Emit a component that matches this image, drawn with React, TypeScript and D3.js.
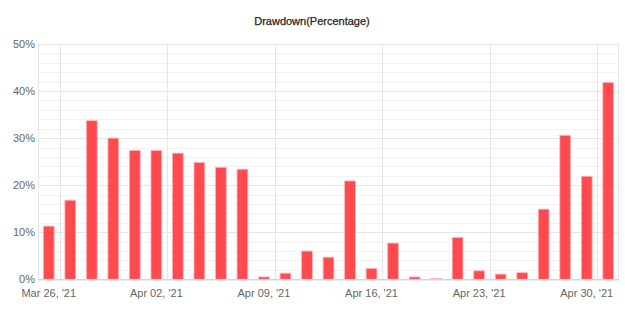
import React from "react";
import * as d3 from "d3";

const dates = [
  "2021-03-26",
  "2021-03-29", "2021-03-30", "2021-03-31", "2021-04-01", "2021-04-02",
  "2021-04-05", "2021-04-06", "2021-04-07", "2021-04-08", "2021-04-09",
  "2021-04-12", "2021-04-13", "2021-04-14", "2021-04-15", "2021-04-16",
  "2021-04-19", "2021-04-20", "2021-04-21", "2021-04-22", "2021-04-23",
  "2021-04-26", "2021-04-27", "2021-04-28", "2021-04-29", "2021-04-30",
  "2021-05-03",
];
const drawdown = [
  11.3,
  16.8, 33.7, 30.0, 27.4, 27.4,
  26.8, 24.8, 23.8, 23.4, 0.5,
  1.3, 6.0, 4.7, 20.9, 2.3,
  7.7, 0.5, 0.15, 8.9, 1.8,
  1.1, 1.4, 14.9, 30.6, 21.9,
  41.8,
];
const tickDates = ["2021-03-26", "2021-04-02", "2021-04-09", "2021-04-16", "2021-04-23", "2021-04-30"];
const tickLabels = ["Mar 26, '21", "Apr 02, '21", "Apr 09, '21", "Apr 16, '21", "Apr 23, '21", "Apr 30, '21"];
const yTicks = [0, 10, 20, 30, 40, 50];
const yMinor = [2, 4, 6, 8, 12, 14, 16, 18, 22, 24, 26, 28, 32, 34, 36, 38, 42, 44, 46, 48];
const title = "Drawdown(Percentage)";

export default function App() {
  const W = 625, H = 322;
  const left = 38, right = 619, top = 44, bottom = 279.3;
  const x = d3.scaleBand<string>().domain(dates).range([left, right]).paddingInner(0.5).paddingOuter(0.25);
  const y = d3.scaleLinear().domain([0, 50]).range([bottom, top]);
  const step = x.step();
  const font = "'Liberation Sans', Arial, sans-serif";

  return (
    <svg width={W} height={H} style={{ position: "absolute", left: 0, top: 0, background: "#fff" }} fontFamily={font}>
      <text x={312} y={25} textAnchor="middle" fontSize={11} fill="#222" stroke="#222" strokeWidth={0.25}>{title}</text>
      {yMinor.map((v) => (
        <line key={"m" + v} x1={left} x2={right} y1={Math.round(y(v)) + 0.5} y2={Math.round(y(v)) + 0.5} stroke="#f3f3f3" strokeWidth={1} />
      ))}
      {yTicks.map((v) => (
        <line key={"g" + v} x1={left} x2={right} y1={Math.round(y(v)) + 0.5} y2={Math.round(y(v)) + 0.5} stroke="#e6e6e6" strokeWidth={1} />
      ))}
      {tickDates.map((d) => {
        const xx = Math.round((x(d) as number) + x.bandwidth() / 2 + step / 2) + 0.5;
        return <line key={"v" + d} x1={xx} x2={xx} y1={top} y2={bottom} stroke="#e6e6e6" strokeWidth={1} />;
      })}
      <line x1={left + 0.5} x2={left + 0.5} y1={top} y2={bottom} stroke="#e6e6e6" />
      <line x1={right - 0.5} x2={right - 0.5} y1={top} y2={bottom} stroke="#e6e6e6" />
      {dates.map((d, i) => (
        <rect
          key={d}
          x={x(d) as number}
          y={y(drawdown[i])}
          width={x.bandwidth()}
          height={bottom - y(drawdown[i])}
          fill="#ff3b40"
          fillOpacity={0.92}
          stroke="#ffb3b5"
          strokeWidth={0.8}
        />
      ))}
      <line x1={left} x2={right} y1={bottom + 0.5} y2={bottom + 0.5} stroke="#ccd6eb" strokeWidth={1.5} />
      {yTicks.map((v) => (
        <text key={"yl" + v} x={35} y={y(v) + 4} textAnchor="end" fontSize={11} fill="#666">{v + "%"}</text>
      ))}
      {tickDates.map((d, i) => (
        <text key={"xl" + d} x={(x(d) as number) + x.bandwidth() / 2} y={297} textAnchor="middle" fontSize={11} fill="#666">{tickLabels[i]}</text>
      ))}
    </svg>
  );
}
